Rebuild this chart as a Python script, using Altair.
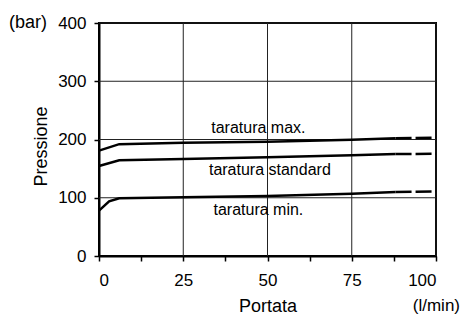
import altair as alt
import pandas as pd

# Curve data (solid part)
x_max = [0, 6, 25, 50, 75, 88]
y_max = [181, 192, 194.5, 196, 199.5, 202]
x_std = [0, 6, 25, 50, 75, 88]
y_std = [154.5, 164.5, 166.5, 169.5, 173, 175]
x_min = [0, 3, 6, 25, 50, 75, 88]
y_min = [78, 94, 99, 101, 103, 107, 110]
# Dashed extensions
xd = [88, 100]
yd_max = [202, 203]
yd_std = [175, 175.5]
yd_min = [110, 111]

label_text = ["taratura max.", "taratura standard", "taratura min."]
label_x = [47.3, 50.7, 47.3]
label_y = [220, 148, 79]

grid_x = [25, 50, 75, 100]
grid_y = [100, 200, 300, 400]
x_ticks = [0, 12.5, 25, 37.5, 50, 62.5, 75, 87.5, 100]
y_ticks = [0, 50, 100, 150, 200, 250, 300, 350, 400]

FONT = "Liberation Sans"

solid = pd.concat([
    pd.DataFrame({"x": x_max, "y": y_max, "s": "max"}),
    pd.DataFrame({"x": x_std, "y": y_std, "s": "std"}),
    pd.DataFrame({"x": x_min, "y": y_min, "s": "min"}),
])
dashed = pd.concat([
    pd.DataFrame({"x": xd, "y": yd_max, "s": "max"}),
    pd.DataFrame({"x": xd, "y": yd_std, "s": "std"}),
    pd.DataFrame({"x": xd, "y": yd_min, "s": "min"}),
])
labels = pd.DataFrame({"t": label_text, "x": label_x, "y": label_y})

xs = alt.Scale(domain=[0, 100], nice=False)
ys = alt.Scale(domain=[0, 400], nice=False)

xaxis = alt.Axis(values=x_ticks, labelExpr="datum.value % 25 == 0 ? datum.label : ''",
                 title="Portata", grid=False, labelPadding=11)
yaxis = alt.Axis(values=y_ticks, labelExpr="datum.value % 100 == 0 ? datum.label : ''",
                 title="Pressione", grid=False, titleY=123)

gx = alt.Chart(pd.DataFrame({"x": grid_x})).mark_rule(color="#222", strokeWidth=1).encode(
    x=alt.X("x:Q", scale=xs, axis=xaxis))
gy = alt.Chart(pd.DataFrame({"y": grid_y})).mark_rule(color="#222", strokeWidth=1).encode(
    y=alt.Y("y:Q", scale=ys, axis=yaxis))

lines = alt.Chart(solid).mark_line(color="black", strokeWidth=2.5).encode(
    x=alt.X("x:Q", scale=xs), y=alt.Y("y:Q", scale=ys), detail="s:N")
dlines = alt.Chart(dashed).mark_line(color="black", strokeWidth=2.5, strokeDash=[16, 4]).encode(
    x=alt.X("x:Q", scale=xs), y=alt.Y("y:Q", scale=ys), detail="s:N")

txt = alt.Chart(labels).mark_text(font=FONT, fontSize=16, color="black").encode(
    x=alt.X("x:Q", scale=xs), y=alt.Y("y:Q", scale=ys), text="t:N")

unit_bar = alt.Chart(pd.DataFrame({"x": [0], "y": [400], "t": ["(bar)"]})).mark_text(
    font=FONT, fontSize=18, align="right", baseline="middle", dx=-52, color="black").encode(
    x=alt.X("x:Q", scale=xs), y=alt.Y("y:Q", scale=ys), text="t:N")
unit_lmin = alt.Chart(pd.DataFrame({"x": [100], "y": [0], "t": ["(l/min)"]})).mark_text(
    font=FONT, fontSize=17, align="right", baseline="alphabetic", dx=24, dy=55, color="black").encode(
    x=alt.X("x:Q", scale=xs), y=alt.Y("y:Q", scale=ys), text="t:N")

chart = alt.layer(gx, gy, lines, dlines, txt, unit_bar, unit_lmin).properties(
    width=337, height=233,
    autosize=alt.AutoSizeParams(type="none"),
    padding={"left": 91, "top": 15, "right": 25, "bottom": 58},
).configure_view(stroke="black", strokeWidth=2).configure_axis(
    domainColor="black", domainWidth=2, tickColor="black", tickWidth=1.5, tickSize=5,
    labelFont=FONT, labelFontSize=17, labelColor="black", labelPadding=8,
    titleFont=FONT, titleFontSize=18, titleFontWeight="normal", titleColor="black",
).configure_axisX(titlePadding=9).configure_axisY(titlePadding=7)

chart.save("out.html", embed_options={"renderer": "svg", "actions": False})
